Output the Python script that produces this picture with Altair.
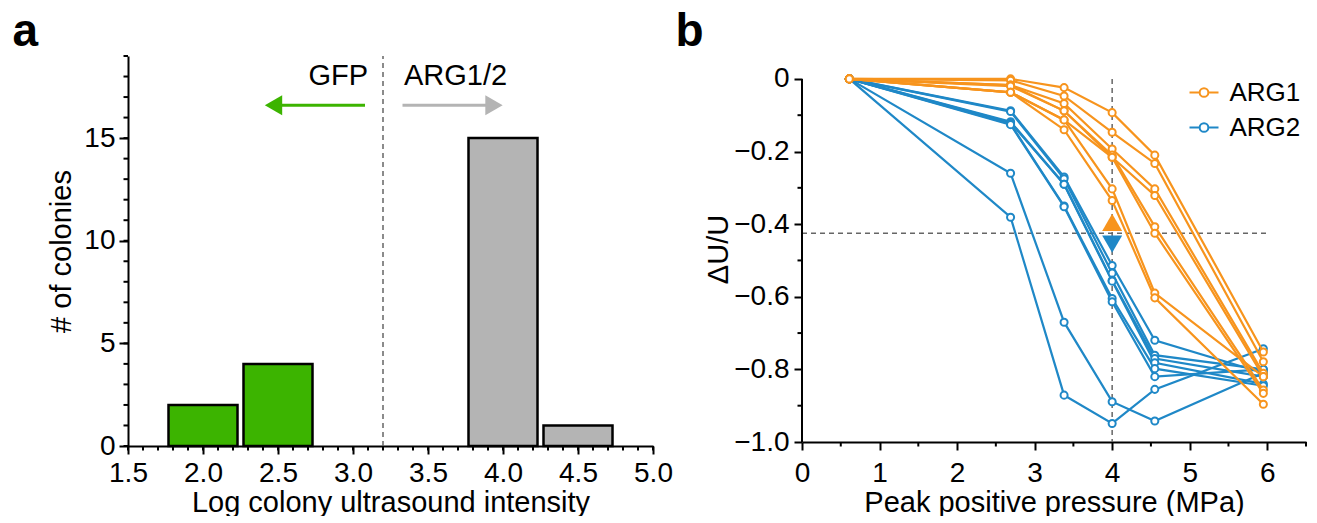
import altair as alt
import pandas as pd

FONT = "Liberation Sans"
GREEN = "#3CB400"
GREY_BAR = "#B4B4B4"
GREY_ARROW = "#9A9A9A"
ORANGE = "#F7941D"
BLUE = "#1F88C7"
DASH = "#666666"

# ---------------- panel a data ----------------
bar_centers = [2.0, 2.5, 4.0, 4.5]
bar_counts = [2, 4, 15, 1]
bar_groups = ["GFP", "GFP", "ARG1/2", "ARG1/2"]
a_x_ticks = [1.5, 2.0, 2.5, 3.0, 3.5, 4.0, 4.5, 5.0]
a_x_minor = [round(1.5 + 0.1 * i, 1) for i in range(36)]
a_y_ticks = [0, 5, 10, 15]
a_y_minor = list(range(0, 20))
threshold_a = [3.2]
arrow_groups = ["GFP", "ARG1/2"]
arrow_tail = [3.08, 3.33]
arrow_head = [2.47, 3.94]
arrow_y = [16.6, 16.6]
arrow_shape = ["triangle-left", "triangle-right"]
label_text = ["GFP", "ARG1/2"]
label_x = [3.10, 3.34]
label_y = [17.6, 17.6]
label_align = ["right", "left"]

# ---------------- panel b data ----------------
pressure = [0.61, 2.69, 3.38, 4.0, 4.55, 5.95]
arg1 = [
    [0, 0.0, -0.024, -0.093, -0.21, -0.752],
    [0, -0.004, -0.047, -0.147, -0.233, -0.779],
    [0, -0.017, -0.068, -0.193, -0.303, -0.811],
    [0, -0.017, -0.088, -0.216, -0.321, -0.82],
    [0, -0.02, -0.088, -0.21, -0.407, -0.857],
    [0, -0.037, -0.113, -0.216, -0.425, -0.866],
    [0, -0.037, -0.113, -0.303, -0.59, -0.82],
    [0, -0.037, -0.14, -0.335, -0.603, -0.896],
]
arg2 = [
    [0, -0.26, -0.67, -0.889, -0.942, -0.81],
    [0, -0.381, -0.871, -0.949, -0.855, -0.743],
    [0, -0.088, -0.27, -0.514, -0.72, -0.81],
    [0, -0.09, -0.275, -0.535, -0.761, -0.80],
    [0, -0.118, -0.29, -0.555, -0.77, -0.82],
    [0, -0.12, -0.29, -0.557, -0.782, -0.84],
    [0, -0.124, -0.35, -0.605, -0.798, -0.845],
    [0, -0.126, -0.352, -0.614, -0.82, -0.80],
]
b_x_ticks = [0, 1, 2, 3, 4, 5, 6]
b_x_minor = [0.5, 1.5, 2.5, 3.5, 4.5, 5.5, 6.5]
b_y_ticks = [-1.0, -0.8, -0.6, -0.4, -0.2, 0.0]
b_y_minor = [-0.9, -0.7, -0.5, -0.3, -0.1]
threshold_p = [4.0]
threshold_du = [-0.425]
threshold_du_span = [0.0, 6.0]
marker_series = ["ARG1", "ARG2"]
marker_du = [-0.395, -0.455]
marker_shape = ["triangle-up", "triangle-down"]

A_W, A_H = 525, 390
B_W, B_H = 504, 386
TICK_FS = 28
TITLE_FS = 29

# ================= panel a =================
XA = "Log colony ultrasound intensity"
YA = "# of colonies"
xa_scale = alt.Scale(domain=[1.5, 5.0], nice=False, zero=False)
ya_scale = alt.Scale(domain=[0, 19], nice=False, zero=False)
a_color = alt.Scale(domain=["GFP", "ARG1/2"], range=[GREEN, GREY_BAR])
a_arrow_color = alt.Scale(domain=["GFP", "ARG1/2"], range=[GREEN, GREY_ARROW])

bars = pd.DataFrame({"center": bar_centers, "count": bar_counts, "group": bar_groups})
bar_layer = (
    alt.Chart(bars)
    .transform_calculate(lo="datum.center - 0.23", hi="datum.center + 0.23", base="0")
    .mark_rect(stroke="black", strokeWidth=2.5, opacity=1)
    .encode(
        x=alt.X("lo:Q", scale=xa_scale, title=XA,
                axis=alt.Axis(values=a_x_ticks, format=".1f", tickSize=8, labelPadding=5,
                              titlePadding=1)),
        x2="hi:Q",
        y=alt.Y("base:Q", scale=ya_scale, title=YA,
                axis=alt.Axis(values=a_y_ticks, tickSize=9, labelPadding=4, titlePadding=7)),
        y2="count:Q",
        color=alt.Color("group:N", scale=a_color, legend=None),
    )
)

a_minor_y = alt.Chart(pd.DataFrame({"v": a_y_minor})).mark_rule(color="black", strokeWidth=2).encode(
    y=alt.Y("v:Q", scale=ya_scale, title=YA), x=alt.value(0), x2=alt.value(-4.5)
)
a_minor_x = alt.Chart(pd.DataFrame({"v": a_x_minor})).mark_rule(color="black", strokeWidth=2).encode(
    x=alt.X("v:Q", scale=xa_scale, title=XA), y=alt.value(A_H), y2=alt.value(A_H + 4.5)
)
a_thresh = alt.Chart(pd.DataFrame({"t": threshold_a, "y0": [0], "y1": [19]})).mark_rule(
    color=DASH, strokeWidth=1.5, strokeDash=[5, 4]
).encode(x=alt.X("t:Q", scale=xa_scale, title=XA),
         y=alt.Y("y0:Q", scale=ya_scale, title=YA), y2="y1:Q")

arrows = pd.DataFrame({"group": arrow_groups, "tail": arrow_tail, "head": arrow_head,
                       "y": arrow_y, "shape": arrow_shape})
a_arrow_lines = alt.Chart(arrows).mark_rule(strokeWidth=3).encode(
    x=alt.X("tail:Q", scale=xa_scale, title=XA), x2="head:Q",
    y=alt.Y("y:Q", scale=ya_scale, title=YA),
    color=alt.Color("group:N", scale=a_arrow_color, legend=None),
)
a_arrow_heads = alt.Chart(arrows).mark_point(filled=True, size=400, opacity=1).encode(
    x=alt.X("head:Q", scale=xa_scale, title=XA),
    y=alt.Y("y:Q", scale=ya_scale, title=YA),
    shape=alt.Shape("shape:N", scale=None),
    color=alt.Color("group:N", scale=a_arrow_color, legend=None),
)
labels = pd.DataFrame({"text": label_text, "x": label_x, "y": label_y, "align": label_align})
a_label_r = alt.Chart(labels).transform_filter("datum.align == 'right'").mark_text(
    align="right", baseline="alphabetic", font=FONT, fontSize=29, color="black"
).encode(x=alt.X("x:Q", scale=xa_scale, title=XA),
         y=alt.Y("y:Q", scale=ya_scale, title=YA), text="text:N")
a_label_l = alt.Chart(labels).transform_filter("datum.align == 'left'").mark_text(
    align="left", baseline="alphabetic", font=FONT, fontSize=29, color="black"
).encode(x=alt.X("x:Q", scale=xa_scale, title=XA),
         y=alt.Y("y:Q", scale=ya_scale, title=YA), text="text:N")
a_letter = alt.Chart(pd.DataFrame({"t": ["a"]})).mark_text(
    align="left", baseline="alphabetic", font=FONT, fontSize=46, fontWeight="bold", color="black"
).encode(text="t:N", x=alt.value(-115.5), y=alt.value(-10))

panel_a = alt.layer(
    a_thresh, bar_layer, a_minor_y, a_minor_x, a_arrow_lines, a_arrow_heads, a_label_r, a_label_l, a_letter
).properties(width=A_W, height=A_H)

# ================= panel b =================
rows = []
for g, series in (("ARG1", arg1), ("ARG2", arg2)):
    for k, vals in enumerate(series):
        for p, v in zip(pressure, vals):
            rows.append({"series": g, "line": f"{g}-{k}", "p": p, "du": v})
lines_df = pd.DataFrame(rows)

XT = "Peak positive pressure (MPa)"
YT = "ΔU/U"
xb_scale = alt.Scale(domain=[0, 6.5], nice=False, zero=False)
yb_scale = alt.Scale(domain=[-1.0, 0.063], nice=False, zero=False)
b_color_scale = alt.Scale(domain=["ARG1", "ARG2"], range=[ORANGE, BLUE])
# legend symbol: short line, gap, hollow ring (two opposite circles -> empty interior), line
RING = ("M-1,0H-0.3M0.3,0H1"
        "M-0.3,0A0.3,0.3,0,1,1,0.3,0A0.3,0.3,0,1,1,-0.3,0"
        "M-0.3,0A0.3,0.3,0,1,0,0.3,0A0.3,0.3,0,1,0,-0.3,0")
legend = alt.Legend(
    orient="none", legendX=386.5, legendY=21, title=None,
    symbolType=RING,
    symbolSize=841, symbolStrokeWidth=2, symbolFillColor="white",
    labelFont=FONT, labelFontSize=26, labelColor="black",
    labelOffset=10, rowPadding=6,
)
xb = alt.X("p:Q", scale=xb_scale, title=XT,
           axis=alt.Axis(values=b_x_ticks, format="d", tickSize=8, labelPadding=9, titlePadding=1))
yb = alt.Y("du:Q", scale=yb_scale, title=YT,
           axis=alt.Axis(values=b_y_ticks, domain=False, tickSize=8, labelPadding=5, titlePadding=0,
                         labelExpr="datum.value == 0 ? '0' : format(datum.value, '.1f')"))
bcol = alt.Color("series:N", scale=b_color_scale, legend=legend)


def series_layers(g):
    base = alt.Chart(lines_df).transform_filter(f"datum.series == '{g}'")
    ln = base.mark_line(strokeWidth=2.2).encode(x=xb, y=yb, color=bcol, detail="line:N")
    pt = base.mark_point(shape="circle", filled=False, fill="white", size=50, strokeWidth=2, opacity=1).encode(
        x=xb, y=yb, color=bcol, detail="line:N")
    return ln, pt


blue_ln, blue_pt = series_layers("ARG2")
orange_ln, orange_pt = series_layers("ARG1")

b_axis_line = alt.Chart(pd.DataFrame({"y0": [0.0], "y1": [-1.0]})).mark_rule(color="black", strokeWidth=2).encode(
    x=alt.value(0), y=alt.Y("y0:Q", scale=yb_scale, title=YT), y2="y1:Q")
b_minor_y = alt.Chart(pd.DataFrame({"v": b_y_minor})).mark_rule(color="black", strokeWidth=2).encode(
    y=alt.Y("v:Q", scale=yb_scale, title=YT), x=alt.value(0), x2=alt.value(-4.5))
b_minor_x = alt.Chart(pd.DataFrame({"v": b_x_minor})).mark_rule(color="black", strokeWidth=2).encode(
    x=alt.X("v:Q", scale=xb_scale, title=XT), y=alt.value(B_H), y2=alt.value(B_H + 4.5))
b_hdash = alt.Chart(pd.DataFrame({"du": threshold_du, "p0": [threshold_du_span[0]], "p1": [threshold_du_span[1]]})).mark_rule(
    color=DASH, strokeWidth=1.5, strokeDash=[5, 4]
).encode(x=alt.X("p0:Q", scale=xb_scale, title=XT), x2="p1:Q", y=alt.Y("du:Q", scale=yb_scale, title=YT))
b_vdash = alt.Chart(pd.DataFrame({"p": threshold_p, "y0": [0.0], "y1": [-1.0]})).mark_rule(
    color=DASH, strokeWidth=1.5, strokeDash=[5, 4]
).encode(x=alt.X("p:Q", scale=xb_scale, title=XT), y=alt.Y("y0:Q", scale=yb_scale, title=YT), y2="y1:Q")
markers = pd.DataFrame({"series": marker_series, "p": threshold_p * 2, "du": marker_du, "shape": marker_shape})
b_markers = alt.Chart(markers).mark_point(filled=True, size=400, opacity=1).encode(
    x=alt.X("p:Q", scale=xb_scale, title=XT), y=alt.Y("du:Q", scale=yb_scale, title=YT),
    shape=alt.Shape("shape:N", scale=None),
    color=alt.Color("series:N", scale=b_color_scale, legend=None),
)
b_letter = alt.Chart(pd.DataFrame({"t": ["b"]})).mark_text(
    align="left", baseline="alphabetic", font=FONT, fontSize=46, fontWeight="bold", color="black"
).encode(text="t:N", x=alt.value(-126.5), y=alt.value(-10))

panel_b = alt.layer(
    b_hdash, b_vdash, blue_ln, blue_pt, orange_ln, orange_pt, b_markers,
    b_axis_line, b_minor_y, b_minor_x, b_letter
).properties(width=B_W, height=B_H)

chart = (
    alt.hconcat(panel_a, panel_b, spacing=2)
    .resolve_scale(color="independent", shape="independent")
    .properties(padding={"left": 4, "top": 1, "right": 0, "bottom": -1}, background="white")
    .configure_view(stroke=None)
    .configure_axis(
        labelFont=FONT, labelFontSize=TICK_FS, labelColor="black",
        titleFont=FONT, titleFontSize=TITLE_FS, titleFontWeight="normal", titleColor="black",
        domainColor="black", domainWidth=2, tickColor="black", tickWidth=2,
        grid=False, labelFlush=False, labelOverlap=False,
    )
)

chart.save("out.html", embed_options={"renderer": "svg", "actions": False})
